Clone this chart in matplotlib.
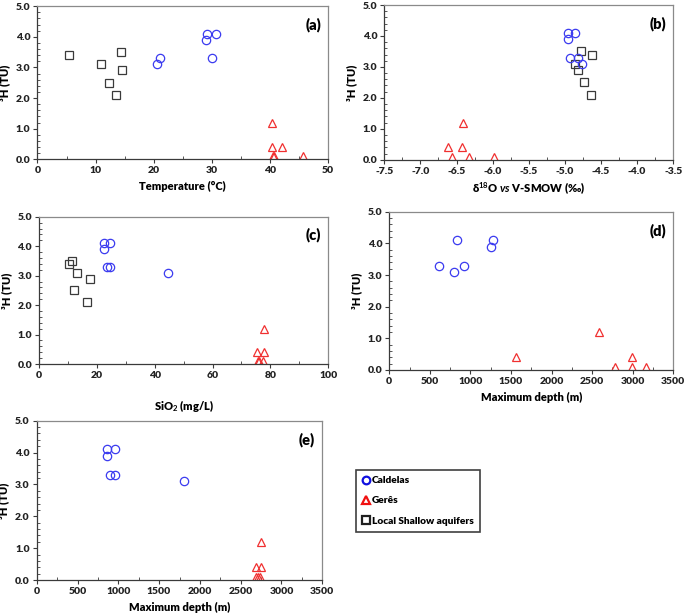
import matplotlib
matplotlib.use("Agg")
import matplotlib.pyplot as plt
from matplotlib.ticker import MultipleLocator, FormatStrFormatter

plt.rcParams['font.family'] = ['Lato', 'DejaVu Sans']
plt.rcParams['font.weight'] = 'bold'
plt.rcParams['mathtext.fontset'] = 'custom'
plt.rcParams['mathtext.rm'] = 'Lato:bold'
plt.rcParams['mathtext.it'] = 'Lato:italic:bold'
plt.rcParams['mathtext.bf'] = 'Lato:bold'

# tritium values (TU) for each group
tu_caldelas = [4.1, 3.9, 4.1, 3.3, 3.3, 3.1]
tu_geres = [1.2, 0.4, 0.4, 0.1, 0.1, 0.1]
tu_shallow = [3.5, 3.4, 3.1, 2.9, 2.5, 2.1]

# (a) temperature
temp_caldelas = [29.2, 29.0, 30.7, 21.1, 30.0, 20.6]
temp_geres = [40.4, 40.4, 42.0, 40.5, 40.6, 45.6]
temp_shallow = [14.3, 5.5, 11.0, 14.6, 12.3, 13.5]

# (b) d18O
d18o_caldelas = [-4.96, -4.96, -4.86, -4.93, -4.82, -4.76]
d18o_geres = [-6.41, -6.62, -6.42, -6.56, -6.33, -5.98]
d18o_shallow = [-4.78, -4.63, -4.86, -4.82, -4.73, -4.64]

# (c) SiO2
sio2_caldelas = [22.6, 22.6, 24.5, 23.4, 24.5, 44.7]
sio2_geres = [77.9, 75.5, 77.9, 75.6, 76.2, 77.5]
sio2_shallow = [11.3, 10.4, 13.0, 17.7, 12.1, 16.7]

# (d) maximum depth
depth_d_caldelas = [834, 1249, 1282, 612, 924, 801]
depth_d_geres = [2588, 1561, 2987, 2785, 2987, 3163]

# (e) maximum depth
depth_e_caldelas = [866, 857, 960, 902, 964, 1801]
depth_e_geres = [2748, 2687, 2748, 2687, 2715, 2736]

blue = '#3b3bf0'
red = '#f03030'
dark = '#3a3a3a'
msz = 6.0

fig = plt.figure(figsize=(6.85, 6.15), dpi=100)


def style(ax, xlim, xmaj, xmin, xfmt, xlabel, tag, labelpad=4):
    ax.set_xlim(*xlim)
    ax.set_ylim(0, 5)
    ax.xaxis.set_major_locator(MultipleLocator(xmaj))
    ax.xaxis.set_minor_locator(MultipleLocator(xmin))
    ax.xaxis.set_major_formatter(FormatStrFormatter(xfmt))
    ax.yaxis.set_major_locator(MultipleLocator(1.0))
    ax.yaxis.set_minor_locator(MultipleLocator(0.2))
    ax.yaxis.set_major_formatter(FormatStrFormatter('%.1f'))
    ax.tick_params(which='major', direction='out', length=3, width=0.8,
                   labelsize=7.5, colors=dark, labelcolor='#222222', pad=2)
    ax.tick_params(which='minor', direction='in', length=2, width=0.6,
                   colors=dark)
    for lab in ax.get_xticklabels() + ax.get_yticklabels():
        lab.set_fontweight('heavy')
    for s in ['left', 'bottom']:
        ax.spines[s].set_color(dark)
        ax.spines[s].set_linewidth(0.9)
    for s in ['top', 'right']:
        ax.spines[s].set_color('#8a8a8a')
        ax.spines[s].set_linewidth(0.9)
    ax.set_xlabel(xlabel, fontsize=8, fontweight='heavy', labelpad=labelpad)
    ax.set_ylabel('³H (TU)', fontsize=8, fontweight='heavy', labelpad=4)
    ax.text(0.975, 0.88, tag, transform=ax.transAxes, ha='right',
            va='center', fontsize=10.5, fontweight='heavy')


def pts(ax, x, y, marker, color):
    return ax.plot(x, y, linestyle='none', marker=marker, markersize=msz,
                   markerfacecolor='none', markeredgecolor=color,
                   markeredgewidth=0.9)[0]


ax_a = fig.add_axes([0.0547, 0.741, 0.4245, 0.249])
pts(ax_a, temp_shallow, tu_shallow, 's', dark)
pts(ax_a, temp_caldelas, tu_caldelas, 'o', blue)
pts(ax_a, temp_geres, tu_geres, '^', red)
style(ax_a, (0, 50), 10, 5, '%d', 'Temperature (°C)', '(a)')

ax_b = fig.add_axes([0.561, 0.7403, 0.4219, 0.2515])
pts(ax_b, d18o_shallow, tu_shallow, 's', dark)
pts(ax_b, d18o_caldelas, tu_caldelas, 'o', blue)
pts(ax_b, d18o_geres, tu_geres, '^', red)
style(ax_b, (-7.5, -3.5), 0.5, 0.25, '%.1f',
      r'δ$^{18}$O $\mathit{vs}$ V-SMOW (‰)', '(b)')

ax_c = fig.add_axes([0.0569, 0.4081, 0.4223, 0.2395])
pts(ax_c, sio2_shallow, tu_shallow, 's', dark)
pts(ax_c, sio2_caldelas, tu_caldelas, 'o', blue)
pts(ax_c, sio2_geres, tu_geres, '^', red)
style(ax_c, (0, 100), 20, 10, '%d', r'SiO$_2$ (mg/L)', '(c)', labelpad=13)

ax_d = fig.add_axes([0.5683, 0.3984, 0.4146, 0.2574])
pts(ax_d, depth_d_caldelas, tu_caldelas, 'o', blue)
pts(ax_d, depth_d_geres, tu_geres, '^', red)
style(ax_d, (0, 3500), 500, 250, '%d', 'Maximum depth (m)', '(d)')

ax_e = fig.add_axes([0.0536, 0.0569, 0.4169, 0.259])
pts(ax_e, depth_e_caldelas, tu_caldelas, 'o', blue)
pts(ax_e, depth_e_geres, tu_geres, '^', red)
style(ax_e, (0, 3500), 500, 250, '%d', 'Maximum depth (m)', '(e)')

# legend handles
hl = []
for m, c, lab in [('o', '#1010e0', 'Caldelas'), ('^', '#f01010', 'Gerês'),
                  ('s', '#202020', 'Local Shallow aquifers')]:
    hl.append(plt.Line2D([], [], linestyle='none', marker=m, markersize=5.5,
                         markerfacecolor='none', markeredgecolor=c,
                         markeredgewidth=1.6, label=lab))
leg = fig.legend(handles=hl, loc='upper left',
                 bbox_to_anchor=(0.5197, 0.2358), borderaxespad=0,
                 fancybox=False, edgecolor='#404040', framealpha=1,
                 prop={'family': 'Lato', 'weight': 'heavy', 'size': 7.3},
                 handlelength=0.7, handletextpad=0.3, labelspacing=1.1,
                 borderpad=0.6)
leg.get_frame().set_linewidth(1.2)

fig.savefig('out.png', dpi=100)
